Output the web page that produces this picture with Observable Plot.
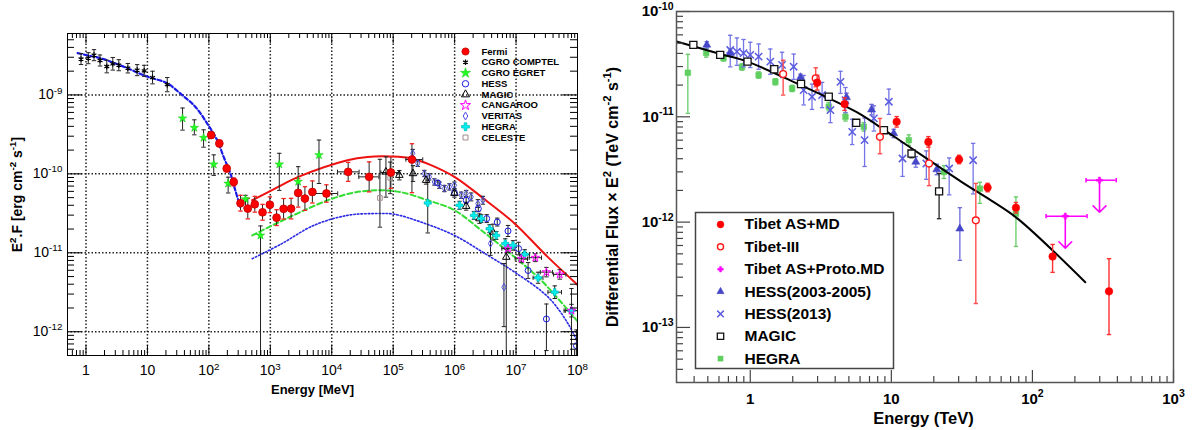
<!DOCTYPE html>
<html>
<head>
<meta charset="utf-8">
<script src="https://cdn.jsdelivr.net/npm/d3@7"></script>
<script src="https://cdn.jsdelivr.net/npm/@observablehq/plot@0.6"></script>
<style>
  html, body { margin: 0; padding: 0; background: #fff; overflow: hidden; }
  #wrap { display: flex; width: 1193px; height: 430px; }
  #wrap svg { display: block; flex: none; }
</style>
</head>
<body>
<div id="wrap"></div>
<script>
const FONT = "'Liberation Sans', Arial, Helvetica, sans-serif";

// ================= LEFT PANEL DATA (E in MeV, E^2 F in erg cm^-2 s^-1) =================
const comptelE = [0.83, 1.09, 1.35, 1.69, 2.18, 2.73, 3.42, 4.8, 6.8, 8.85, 12.1, 21];
const comptelF = [2.85e-9, 2.92e-9, 3.19e-9, 2.73e-9, 2.29e-9, 2.48e-9, 2.38e-9, 2.18e-9, 2.06e-9, 2.02e-9, 1.66e-9, 1.35e-9];
const comptelErr = [0.07, 0.07, 0.07, 0.07, 0.08, 0.08, 0.07, 0.06, 0.07, 0.07, 0.08, 0.09];

const egretE = [37.3, 58, 82, 120, 206, 394, 693, 1400, 2840, 6200];
const egretF = [5.06e-10, 3.84e-10, 2.87e-10, 1.32e-10, 7.55e-11, 4.77e-11, 1.66e-11, 1.32e-10, 7.96e-11, 1.73e-10];
const egretErrHi = [0.13, 0.1, 0.1, 0.12, 0.08, 0.05, 0.12, 0.14, 0.19, 0.19];
const egretErrLo = [0.15, 0.09, 0.12, 0.14, 0.12, 0.11, 3, 0.33, 0.15, 0.36];

const fermiE = [109, 148, 195, 254, 327, 430, 559, 747, 984, 1265, 1645, 2180, 2840, 3660, 4840, 8190, 18500, 40600, 91800, 202000];
const fermiF = [3.1e-10, 2.43e-10, 1.17e-10, 7.9e-11, 4.25e-11, 3.63e-11, 4.12e-11, 3.26e-11, 4.06e-11, 2.79e-11, 3.61e-11, 3.63e-11, 5.74e-11, 4.87e-11, 5.9e-11, 5.64e-11, 1.06e-10, 9.16e-11, 1.04e-10, 1.52e-10];
const fermiErrHi = [0.04, 0.04, 0.04, 0.05, 0.1, 0.13, 0.1, 0.1, 0.1, 0.1, 0.13, 0.13, 0.18, 0.15, 0.14, 0.11, 0.12, 0.19, 0.2, 0.2];
const fermiErrLo = [0.04, 0.04, 0.04, 0.05, 0.1, 0.13, 0.1, 0.1, 0.1, 0.1, 0.13, 0.13, 0.18, 0.15, 0.14, 0.11, 0.12, 0.19, 0.2, 0.42];
const fermiBinLo = [null, null, null, null, null, null, null, null, null, null, null, null, null, null, null, 5080, 12400, 27600, 63000, 161000];
const fermiBinHi = [null, null, null, null, null, null, null, null, null, null, null, null, null, null, null, 12500, 27900, 58500, 124000, 303000];

const hessLE = [5.32e5, 9.93e5, 1.54e6, 2.43e6, 3.33e6, 4.94e6, 7.39e6, 1.1e7, 1.57e7, 3.12e7, 9.63e7];
const hessLF = [7.69e-11, 5.74e-11, 4.63e-11, 3.63e-11, 2.71e-11, 2.45e-11, 1.89e-11, 1.13e-11, 5.97e-12, 1.45e-12, 6.65e-13];
const hessLErrHi = [0.03, 0.03, 0.04, 0.04, 0.05, 0.05, 0.07, 0.08, 0.1, 0.19, 0.2];
const hessLErrLo = [0.03, 0.03, 0.04, 0.04, 0.05, 0.05, 0.07, 0.08, 0.1, 0.4, 0.3];

const magicLE = [7.62e4, 1.26e5, 2.1e5, 3.43e5, 9.93e5, 1.54e6, 2.54e6, 4.2e6, 6.93e6];
const magicLF = [1.06e-10, 9.62e-11, 1.01e-10, 8.31e-11, 5.69e-11, 3.89e-11, 2.71e-11, 1.83e-11, 8.82e-12];
const magicLErrHi = [0.19, 0.06, 0.1, 0.05, 0.05, 0.05, 0.06, 0.1, 0.1];
const magicLErrLo = [0.32, 0.06, 0.1, 0.05, 0.05, 0.05, 0.06, 0.1, 3];

const veritasE = [2.08e5, 2.51e5, 3.22e5, 3.88e5, 4.68e5, 5.65e5, 6.82e5, 8.23e5, 9.93e5, 1.28e6, 1.54e6, 1.86e6, 2.39e6, 2.89e6, 3.84e6, 6.35e6];
const veritasF = [1.82e-10, 1.36e-10, 1.01e-10, 9.16e-11, 7.9e-11, 7.18e-11, 6.52e-11, 6.84e-11, 7.18e-11, 5.36e-11, 5.63e-11, 5.1e-11, 4.2e-11, 4.63e-11, 1.31e-11, 3.67e-12];
const veritasErrHi = [0.05, 0.04, 0.04, 0.04, 0.04, 0.04, 0.04, 0.04, 0.04, 0.04, 0.04, 0.05, 0.05, 0.05, 0.15, 0.3];
const veritasErrLo = [0.05, 0.04, 0.04, 0.04, 0.04, 0.04, 0.04, 0.04, 0.04, 0.04, 0.04, 0.05, 0.05, 0.05, 0.15, 0.5];

const hegraLE = [3.65e5, 1.2e6, 2.06e6, 2.71e6, 3.7e6, 4.76e6, 6.67e6, 8.92e6, 1.38e7, 2.28e7, 4.26e7, 7.98e7];
const hegraLF = [4.28e-11, 4.0e-11, 2.98e-11, 2.71e-11, 2.02e-11, 1.66e-11, 1.31e-11, 1.24e-11, 9.54e-12, 4.83e-12, 3.17e-12, 1.85e-12];
const hegraLErrHi = [0.29, 0.05, 0.05, 0.05, 0.05, 0.05, 0.06, 0.06, 0.06, 0.07, 0.08, 0.28];
const hegraLErrLo = [0.38, 0.05, 0.05, 0.05, 0.05, 0.05, 0.06, 0.06, 0.06, 0.07, 0.08, 3];
const hegraLXdex = [null, null, null, null, null, null, null, null, 0.08, 0.08, 0.11, 0.12];

const cangE = [7.39e6, 1.22e7, 2.06e7, 3.12e7, 5.14e7, 7.98e7];
const cangF = [1.13e-11, 8.41e-12, 8.67e-12, 5.69e-12, 5.32e-12, 1.85e-12];
const cangErr = [0.05, 0.05, 0.05, 0.06, 0.06, 0.08];
const cangXdex = [0.1, 0.1, 0.1, 0.1, 0.1, 0.1];

const celesteE = [6.08e4, 8.95e4];
const celesteF = [4.95e-11, 8.9e-11];
const celesteErrHi = [0.49, 0.2];
const celesteErrLo = [0.37, 0.2];

// model curves
const comptelModelE = [0.73, 1.0, 1.69, 4.0, 9.8, 20.8, 36.5, 60, 93.5, 136, 174, 224, 269, 325];
const comptelModelF = [3.39e-9, 3.2e-9, 2.93e-9, 2.3e-9, 1.71e-9, 1.41e-9, 1e-9, 7.1e-10, 4.37e-10, 2.68e-10, 1.64e-10, 1.01e-10, 6.2e-11, 3.8e-11];
const redModelE = [507, 1470, 2860, 18000, 38300, 91900, 202000, 413000, 994000, 3.48e6, 9.36e6, 3.33e7, 1.03e8];
const redModelF = [4.63e-11, 7.08e-11, 9.16e-11, 1.49e-10, 1.64e-10, 1.66e-10, 1.57e-10, 1.29e-10, 9.16e-11, 4.41e-11, 2.37e-11, 8.75e-12, 3.85e-12];
const greenModelE = [507, 1470, 3120, 9640, 24700, 63100, 1.34e5, 3.65e5, 9.93e5, 2.71e6, 9.47e6, 2.58e7, 1.03e8];
const greenModelF = [1.66e-11, 2.5e-11, 3.29e-11, 4.78e-11, 5.85e-11, 6.2e-11, 5.85e-11, 4.63e-11, 3.46e-11, 1.93e-11, 8.82e-12, 4.46e-12, 1.32e-12];
const blueModelE = [507, 1470, 5140, 18000, 49100, 1.04e5, 2.84e5, 9.93e5, 3.48e6, 9.47e6, 3.33e7, 7.05e7, 1.03e8];
const blueModelF = [8.41e-12, 1.28e-11, 2.23e-11, 2.98e-11, 3.14e-11, 3.08e-11, 2.45e-11, 1.66e-11, 9.27e-12, 5.69e-12, 2.74e-12, 1.26e-12, 7.0e-13];

const leftLegendLabels = ["Fermi", "CGRO COMPTEL", "CGRO EGRET", "HESS", "MAGIC", "CANGAROO", "VERITAS", "HEGRA", "CELESTE"];
const leftXTicks = [1, 10, 1e2, 1e3, 1e4, 1e5, 1e6, 1e7, 1e8];
const leftXTickLabels = ["1", "10", "10^{2}", "10^{3}", "10^{4}", "10^{5}", "10^{6}", "10^{7}", "10^{8}"];
const leftYTicks = [1e-12, 1e-11, 1e-10, 1e-9];
const leftYTickLabels = ["10^{-12}", "10^{-11}", "10^{-10}", "10^{-9}"];
const leftXTitle = "Energy [MeV]";
const leftYTitle = "E^{2}.F [erg cm^{-2} s^{-1}]";

// ================= RIGHT PANEL DATA (E in TeV, E^2 F in TeV cm^-2 s^-1) =================
const rHegraE = [0.361, 0.487, 0.646, 0.873, 1.146, 1.506, 1.98, 3.6, 4.73, 6.38, 13.3, 23.6, 42.4, 76.4];
const rHegraF = [2.62e-11, 4.04e-11, 3.62e-11, 2.97e-11, 2.49e-11, 2.15e-11, 1.86e-11, 1.25e-11, 1.0e-11, 8.03e-12, 6.0e-12, 2.99e-12, 2.08e-12, 1.2e-12];
const rHegraErrHi = [0.175, 0.04, 0.03, 0.03, 0.03, 0.03, 0.03, 0.04, 0.04, 0.04, 0.05, 0.06, 0.06, 0.16];
const rHegraErrLo = [0.385, 0.04, 0.03, 0.03, 0.03, 0.03, 0.03, 0.04, 0.04, 0.04, 0.05, 0.06, 0.14, 0.31];

const rMagicE = [0.395, 0.612, 0.957, 1.48, 2.29, 3.6, 5.64, 8.86, 13.9, 21.8];
const rMagicF = [4.82e-11, 3.87e-11, 3.34e-11, 2.83e-11, 2.05e-11, 1.55e-11, 8.77e-12, 7.46e-12, 4.48e-12, 1.96e-12];
const rMagicErrHi = [0.02, 0.02, 0.02, 0.02, 0.02, 0.02, 0.03, 0.03, 0.03, 0.17];
const rMagicErrLo = [0.02, 0.02, 0.02, 0.02, 0.02, 0.02, 0.03, 0.03, 0.04, 0.26];

const rHess05E = [0.492, 0.721, 2.27, 4.81, 7.24, 10.4, 14.9, 21.0, 30.6];
const rHess05F = [4.82e-11, 4.02e-11, 2.37e-11, 1.53e-11, 1.17e-11, 6.95e-12, 3.73e-12, 3.16e-12, 8.65e-13];
const rHess05ErrHi = [0.03, 0.03, 0.03, 0.04, 0.05, 0.04, 0.05, 0.05, 0.2];
const rHess05ErrLo = [0.03, 0.03, 0.03, 0.04, 0.05, 0.04, 0.05, 0.05, 0.3];

const rHess13E = [0.721, 0.804, 0.896, 1.0, 1.146, 1.387, 1.68, 2.03, 2.39, 2.74, 3.23, 3.70, 4.36, 4.73, 5.28, 6.46, 7.52, 9.6, 12.0, 17.7, 25.7, 38.0];
const rHess13F = [4.31e-11, 4.16e-11, 4.02e-11, 3.87e-11, 3.73e-11, 3.34e-11, 3.11e-11, 2.99e-11, 1.79e-11, 1.55e-11, 1.61e-11, 1.16e-11, 2.15e-11, 1.44e-11, 7.19e-12, 6.0e-12, 9.66e-12, 1.39e-11, 4.02e-12, 3.6e-12, 3.23e-12, 3.87e-12];
const rHess13ErrHi = [0.14, 0.13, 0.13, 0.12, 0.12, 0.12, 0.12, 0.12, 0.14, 0.12, 0.12, 0.12, 0.1, 0.12, 0.12, 0.21, 0.12, 0.12, 0.15, 0.12, 0.1, 0.16];
const rHess13ErrLo = [0.16, 0.13, 0.13, 0.12, 0.12, 0.12, 0.12, 0.12, 0.14, 0.12, 0.12, 0.12, 0.11, 0.12, 0.12, 0.25, 0.12, 0.12, 0.17, 0.15, 0.25, 0.32];

const rTibetE = [2.98, 4.66, 10.9, 18.3, 30.2, 48.1, 76.4, 139, 349];
const rTibetF = [2.11e-11, 1.32e-11, 8.96e-12, 5.78e-12, 3.93e-12, 2.13e-12, 1.37e-12, 4.71e-13, 2.2e-13];
const rTibetErrHi = [0.07, 0.06, 0.05, 0.05, 0.04, 0.04, 0.05, 0.115, 0.31];
const rTibetErrLo = [0.07, 0.06, 0.05, 0.05, 0.04, 0.04, 0.05, 0.15, 0.41];

const rTibet3E = [1.71, 2.91, 8.3, 18.5, 39.7];
const rTibet3F = [2.55e-11, 2.32e-11, 6.45e-12, 3.6e-12, 1.04e-12];
const rTibet3ErrHi = [0.13, 0.1, 0.175, 0.22, 0.35];
const rTibet3ErrLo = [0.2, 0.08, 0.16, 0.21, 0.79];

const rProtoE = [171, 299];
const rProtoF = [1.14e-12, 2.5e-12];
const rProtoBinLo = [125, 240];
const rProtoBinHi = [244, 393];

const rFitE = [0.3, 0.612, 0.957, 2.27, 3.16, 5.73, 10, 31.6, 50.8, 78.5, 237];
const rFitF = [5.18e-11, 3.95e-11, 3.34e-11, 2.0e-11, 1.63e-11, 1.1e-11, 6.76e-12, 2.4e-12, 1.61e-12, 1.08e-12, 2.69e-13];

const rightLegendLabels = ["Tibet AS+MD", "Tibet-III", "Tibet AS+Proto.MD", "HESS(2003-2005)", "HESS(2013)", "MAGIC", "HEGRA"];
const rightXTicks = [1, 10, 100, 1000];
const rightXTickLabels = ["1", "10", "10^{2}", "10^{3}"];
const rightYTicks = [1e-13, 1e-12, 1e-11, 1e-10];
const rightYTickLabels = ["10^{-13}", "10^{-12}", "10^{-11}", "10^{-10}"];
const rightXTitle = "Energy (TeV)";
const rightYTitle = "Differential Flux \u00d7 E^{2} (TeV cm^{-2} s^{-1})";

// ================= helpers =================
function mk(E, F, lo, hi, x1s, x2s) {
  return E.map((e, i) => ({
    E: e, F: F[i],
    y1: lo && lo[i] != null ? F[i] / Math.pow(10, lo[i]) : null,
    y2: hi && hi[i] != null ? F[i] * Math.pow(10, hi[i]) : null,
    x1: x1s && x1s[i] != null ? x1s[i] : null,
    x2: x2s && x2s[i] != null ? x2s[i] : null
  }));
}
const dexLo = (E, d) => E.map((e, i) => d[i] == null ? null : e / Math.pow(10, d[i]));
const dexHi = (E, d) => E.map((e, i) => d[i] == null ? null : e * Math.pow(10, d[i]));
const curve = (E, F) => E.map((e, i) => ({E: e, F: F[i]}));

const capV = {draw(ctx, size) { const w = Math.sqrt(size / Math.PI); ctx.moveTo(-w, 0); ctx.lineTo(w, 0); }};
const capH = {draw(ctx, size) { const w = Math.sqrt(size / Math.PI); ctx.moveTo(0, -w); ctx.lineTo(0, w); }};

function errBars(data, color, opts = {}) {
  const w = opts.width ?? 1, cap = opts.cap ?? 2.2, capColor = opts.capColor ?? color;
  const v = data.filter(d => d.y1 != null && d.y2 != null);
  const h = data.filter(d => d.x1 != null && d.x2 != null);
  const c = {stroke: color, strokeWidth: w, clip: true};
  const cc = {stroke: capColor, strokeWidth: opts.capWidth ?? w, clip: true, fill: "none", r: cap};
  const out = [
    Plot.ruleX(v, {x: "E", y1: "y1", y2: "y2", ...c}),
    Plot.ruleY(h, {y: "F", x1: "x1", x2: "x2", ...c})
  ];
  if (cap > 0) out.push(
    Plot.dot(v, {x: "E", y: "y1", symbol: capV, ...cc}),
    Plot.dot(v, {x: "E", y: "y2", symbol: capV, ...cc}),
    Plot.dot(h, {x: "x1", y: "F", symbol: capH, ...c, fill: "none", r: cap}),
    Plot.dot(h, {x: "x2", y: "F", symbol: capH, ...c, fill: "none", r: cap})
  );
  return out;
}
function minors(lo, hi) {
  const out = [];
  for (let k = Math.floor(Math.log10(lo)) - 1; k <= Math.ceil(Math.log10(hi)); k++)
    for (let m = 2; m <= 9; m++) {
      const v = m * Math.pow(10, k);
      if (v > lo * 1.001 && v < hi * 0.999) out.push(v);
    }
  return out;
}
const NS = "http://www.w3.org/2000/svg";
function supify(svg) {
  svg.querySelectorAll("text").forEach(t => {
    if (t.querySelector("tspan")) return;
    const s = t.textContent;
    if (!s || s.indexOf("^{") < 0) return;
    const parts = s.split(/(\^\{[^}]*\})/).filter(p => p);
    t.textContent = "";
    let raised = false;
    for (const p of parts) {
      const ts = document.createElementNS(NS, "tspan");
      if (p.startsWith("^{")) {
        ts.textContent = p.slice(2, -1);
        ts.setAttribute("font-size", "70%");
        ts.setAttribute("dy", "-0.6em");
        raised = true;
      } else {
        ts.textContent = p;
        if (raised) ts.setAttribute("dy", "0.42em");
        raised = false;
      }
      t.appendChild(ts);
    }
  });
}

// ================= LEFT PLOT =================
const WL = 590, HL = 430, mL = {l: 67, r: 13, t: 33, b: 75};
const FWL = WL - mL.l - mL.r, FHL = HL - mL.t - mL.b;
const xDomL = [0.5, 1e8], yDomL = [5e-13, 6e-9];

const fermi = mk(fermiE, fermiF, fermiErrLo, fermiErrHi, fermiBinLo, fermiBinHi);
const comptel = mk(comptelE, comptelF, comptelErr, comptelErr);
const egret = mk(egretE, egretF, egretErrLo, egretErrHi);
const hessL = mk(hessLE, hessLF, hessLErrLo, hessLErrHi);
const magicL = mk(magicLE, magicLF, magicLErrLo, magicLErrHi);
const veritas = mk(veritasE, veritasF, veritasErrLo, veritasErrHi);
const hegraL = mk(hegraLE, hegraLF, hegraLErrLo, hegraLErrHi, dexLo(hegraLE, hegraLXdex), dexHi(hegraLE, hegraLXdex));
const cang = mk(cangE, cangF, cangErr, cangErr, dexLo(cangE, cangXdex), dexHi(cangE, cangXdex));
const celeste = mk(celesteE, celesteF, celesteErrLo, celesteErrHi);

const leftStyles = [
  {symbol: "circle", r: 3.9, fill: "#ff0000", stroke: "#c00000", sw: 0.8, lr: 3.6},
  {symbol: "asterisk", r: 2.6, fill: "none", stroke: "#000", sw: 1.2, lr: 2.6},
  {symbol: "star", r: 2.7, fill: "#22ff22", stroke: "#10c010", sw: 0.5, lr: 3.2},
  {symbol: "circle", r: 3, fill: "none", stroke: "#1a1ae6", sw: 1, lr: 3.2},
  {symbol: "triangle", r: 2.8, fill: "none", stroke: "#000", sw: 1, lr: 3},
  {symbol: "star", r: 2.6, fill: "none", stroke: "#ff00ff", sw: 1, lr: 3.2},
  {symbol: "diamond", r: 2.2, fill: "none", stroke: "#5050e0", sw: 1, lr: 2.4},
  {symbol: "cross", r: 3, fill: "#00f0f0", stroke: "#00b8b8", sw: 0.7, lr: 3.3},
  {symbol: "square", r: 2.6, fill: "none", stroke: "#a38a8a", sw: 1, lr: 2.8}
];
const dotsL = (data, s) => Plot.dot(data, {x: "E", y: "F", symbol: s.symbol, r: s.r, fill: s.fill, stroke: s.stroke, strokeWidth: s.sw, clip: true});

const xLabL = new Map(leftXTicks.map((d, i) => [d, leftXTickLabels[i]]));
const yLabL = new Map(leftYTicks.map((d, i) => [d, leftYTickLabels[i]]));
const minXL = minors(...xDomL), minYL = minors(...yDomL);
const gridXL = leftXTicks.slice(0, -1);

const left = Plot.plot({
  width: WL, height: HL,
  marginLeft: mL.l, marginRight: mL.r, marginTop: mL.t, marginBottom: mL.b,
  x: {type: "log", domain: xDomL},
  y: {type: "log", domain: yDomL},
  style: {fontFamily: FONT, fontSize: "14px", background: "white", color: "black", overflow: "visible"},
  marks: [
    Plot.tickX(gridXL, {x: d => d, stroke: "#222", strokeWidth: 1.5, strokeDasharray: "1.5,2"}),
    Plot.tickY(leftYTicks, {y: d => d, stroke: "#222", strokeWidth: 1.5, strokeDasharray: "1.5,2"}),
    Plot.line(curve(blueModelE, blueModelF), {x: "E", y: "F", stroke: "#2a2ae6", strokeWidth: 1.6, strokeDasharray: "1.6,2", curve: "catmull-rom", clip: true}),
    Plot.line(curve(greenModelE, greenModelF), {x: "E", y: "F", stroke: "#33dd33", strokeWidth: 2, strokeDasharray: "5,3", curve: "catmull-rom", clip: true}),
    Plot.line(curve(redModelE, redModelF), {x: "E", y: "F", stroke: "#ee1111", strokeWidth: 2, curve: "catmull-rom", clip: true}),
    Plot.line(curve(comptelModelE, comptelModelF), {x: "E", y: "F", stroke: "#1a1ae6", strokeWidth: 2.2, strokeDasharray: "4,2.5", curve: "catmull-rom", clip: true}),
    ...errBars(hessL, "#222"), ...errBars(veritas, "#222"), ...errBars(magicL, "#222"),
    ...errBars(hegraL, "#222"), ...errBars(cang, "#222"), ...errBars(celeste, "#222"),
    ...errBars(comptel, "#222"), ...errBars(egret, "#222"),
    ...errBars(fermi, "#222", {capColor: "#ff2020", capWidth: 1.3}),
    dotsL(hessL, leftStyles[3]), dotsL(veritas, leftStyles[6]), dotsL(magicL, leftStyles[4]),
    dotsL(hegraL, leftStyles[7]), dotsL(cang, leftStyles[5]), dotsL(celeste, leftStyles[8]),
    dotsL(comptel, leftStyles[1]), dotsL(egret, leftStyles[2]), dotsL(fermi, leftStyles[0]),
    // ticks (inside, on all four sides)
    Plot.tickX(leftXTicks, {x: d => d, insetTop: FHL - 10, stroke: "#000"}),
    Plot.tickX(minXL, {x: d => d, insetTop: FHL - 5, stroke: "#000"}),
    Plot.tickX(leftXTicks, {x: d => d, insetBottom: FHL - 10, stroke: "#000"}),
    Plot.tickX(minXL, {x: d => d, insetBottom: FHL - 5, stroke: "#000"}),
    Plot.tickY(leftYTicks, {y: d => d, insetRight: FWL - 15, stroke: "#000"}),
    Plot.tickY(minYL, {y: d => d, insetRight: FWL - 7, stroke: "#000"}),
    Plot.tickY(leftYTicks, {y: d => d, insetLeft: FWL - 15, stroke: "#000"}),
    Plot.tickY(minYL, {y: d => d, insetLeft: FWL - 7, stroke: "#000"}),
    Plot.axisX({ticks: leftXTicks, tickSize: 0, tickPadding: 10, tickFormat: d => xLabL.get(d), fontSize: 14, label: null}),
    Plot.axisY({ticks: leftYTicks, tickSize: 0, tickPadding: 5, tickFormat: d => yLabL.get(d), fontSize: 14, label: null}),
    Plot.text([leftXTitle], {frameAnchor: "bottom", dx: -10, dy: 34, textAnchor: "middle", lineAnchor: "middle", fontSize: 13, fontWeight: "bold"}),
    Plot.text([leftYTitle], {frameAnchor: "left", dx: -50, rotate: -90, textAnchor: "middle", lineAnchor: "middle", fontSize: 14, fontWeight: "bold"}),
    ...leftLegendLabels.flatMap((lab, i) => [
      Plot.dot([lab], {frameAnchor: "top-left", dx: 398, dy: 18 + i * 10.75, symbol: leftStyles[i].symbol, r: leftStyles[i].lr, fill: leftStyles[i].fill, stroke: leftStyles[i].stroke, strokeWidth: leftStyles[i].sw}),
      Plot.text([lab], {frameAnchor: "top-left", dx: 414, dy: 18 + i * 10.75, textAnchor: "start", lineAnchor: "middle", fontSize: 9.5, fontWeight: "bold"})
    ]),
    Plot.frame({stroke: "#000", strokeWidth: 1})
  ]
});

// ================= RIGHT PLOT =================
const WR = 603, HR = 430, mR = {l: 86, r: 20, t: 11, b: 48};
const FWR = WR - mR.l - mR.r, FHR = HR - mR.t - mR.b;
const xDomR = [0.3, 1000], yDomR = [3e-14, 1e-10];

const rHegra = mk(rHegraE, rHegraF, rHegraErrLo, rHegraErrHi);
const rMagic = mk(rMagicE, rMagicF, rMagicErrLo, rMagicErrHi);
const rHess05 = mk(rHess05E, rHess05F, rHess05ErrLo, rHess05ErrHi);
const rHess13 = mk(rHess13E, rHess13F, rHess13ErrLo, rHess13ErrHi);
const rTibet = mk(rTibetE, rTibetF, rTibetErrLo, rTibetErrHi);
const rTibet3 = mk(rTibet3E, rTibet3F, rTibet3ErrLo, rTibet3ErrHi);
const rProto = mk(rProtoE, rProtoF, null, null, rProtoBinLo, rProtoBinHi);

const rightStyles = [
  {symbol: "circle", r: 3.8, fill: "#ff0000", stroke: "#ff0000", sw: 0.5},
  {symbol: "circle", r: 3.4, fill: "white", stroke: "#ff1a1a", sw: 1.4},
  {symbol: "cross", r: 2.6, fill: "#ff00ff", stroke: "#ff00ff", sw: 0.5},
  {symbol: "triangle", r: 3, fill: "#4646c8", stroke: "#4646c8", sw: 0.5},
  {symbol: "times", r: 3.4, fill: "none", stroke: "#5b5be0", sw: 1.5},
  {symbol: "square", r: 4, fill: "white", stroke: "#111", sw: 1.3},
  {symbol: "square", r: 3.2, fill: "#5fcf5f", stroke: "#5fcf5f", sw: 0.5}
];
const dotsR = (data, s) => Plot.dot(data, {x: "E", y: "F", symbol: s.symbol, r: s.r, fill: s.fill, stroke: s.stroke, strokeWidth: s.sw, clip: true});

const xLabR = new Map(rightXTicks.map((d, i) => [d, rightXTickLabels[i]]));
const yLabR = new Map(rightYTicks.map((d, i) => [d, rightYTickLabels[i]]));
const minXR = minors(...xDomR), minYR = minors(...yDomR);

const right = Plot.plot({
  width: WR, height: HR,
  marginLeft: mR.l, marginRight: mR.r, marginTop: mR.t, marginBottom: mR.b,
  x: {type: "log", domain: xDomR},
  y: {type: "log", domain: yDomR},
  style: {fontFamily: FONT, fontSize: "15px", background: "white", color: "black", overflow: "visible"},
  marks: [
    ...errBars(rHegra, "#66cc66", {width: 1.3}),
    dotsR(rHegra, rightStyles[6]),
    ...errBars(rHess13, "#7474e6", {width: 1.3}),
    dotsR(rHess13, rightStyles[4]),
    ...errBars(rHess05, "#6a6ad8", {width: 1.3}),
    dotsR(rHess05, rightStyles[3]),
    Plot.line(curve(rFitE, rFitF), {x: "E", y: "F", stroke: "#000", strokeWidth: 2, curve: "catmull-rom", clip: true}),
    ...errBars(rMagic, "#222", {width: 1.3}),
    dotsR(rMagic, rightStyles[5]),
    ...errBars(rTibet3, "#ff5050", {width: 1.4}),
    dotsR(rTibet3, rightStyles[1]),
    ...errBars(rTibet, "#ff3030", {width: 1.4}),
    dotsR(rTibet, rightStyles[0]),
    ...errBars(rProto, "#ff00ff", {width: 1.5}),
    Plot.vector(rProto, {x: "E", y: "F", length: 32, rotate: 180, anchor: "start", stroke: "#ff00ff", strokeWidth: 1.6}),
    dotsR(rProto, rightStyles[2]),
    // ticks (inside, bottom and left)
    Plot.tickX(rightXTicks, {x: d => d, insetTop: FHR - 12, stroke: "#444", strokeWidth: 1.2}),
    Plot.tickX(minXR, {x: d => d, insetTop: FHR - 6, stroke: "#444", strokeWidth: 1.2}),
    Plot.tickY(rightYTicks, {y: d => d, insetRight: FWR - 14, stroke: "#444", strokeWidth: 1.2}),
    Plot.tickY(minYR, {y: d => d, insetRight: FWR - 7, stroke: "#444", strokeWidth: 1.2}),
    Plot.axisX({ticks: rightXTicks, tickSize: 0, tickPadding: 10.5, tickFormat: d => xLabR.get(d), fontSize: 15, fontWeight: "bold", label: null}),
    Plot.axisY({ticks: rightYTicks, tickSize: 0, tickPadding: 3, tickFormat: d => yLabR.get(d), fontSize: 15, fontWeight: "bold", label: null}),
    Plot.text([rightXTitle], {frameAnchor: "bottom", dx: -1.5, dy: 36, textAnchor: "middle", lineAnchor: "middle", fontSize: 16.5, fontWeight: "bold"}),
    Plot.text([rightYTitle], {frameAnchor: "left", dx: -64, rotate: -90, textAnchor: "middle", lineAnchor: "middle", fontSize: 16, fontWeight: "bold"}),
    // legend box
    Plot.frame({insetLeft: 19, insetTop: 201, insetRight: FWR - 19 - 198, insetBottom: FHR - 201 - 156, stroke: "#444", strokeWidth: 1.5, fill: "white"}),
    ...rightLegendLabels.flatMap((lab, i) => [
      Plot.dot([lab], {frameAnchor: "top-left", dx: 44, dy: 213 + i * 22.35, symbol: rightStyles[i].symbol, r: rightStyles[i].r * 0.9, fill: rightStyles[i].fill, stroke: rightStyles[i].stroke, strokeWidth: rightStyles[i].sw}),
      Plot.text([lab], {frameAnchor: "top-left", dx: 68, dy: 213 + i * 22.35, textAnchor: "start", lineAnchor: "middle", fontSize: 15.5, fontWeight: "bold"})
    ]),
    Plot.frame({stroke: "#555", strokeWidth: 1.5})
  ]
});

supify(left); supify(right);
const wrap = document.getElementById("wrap");
wrap.appendChild(left);
wrap.appendChild(right);
</script>
</body>
</html>
